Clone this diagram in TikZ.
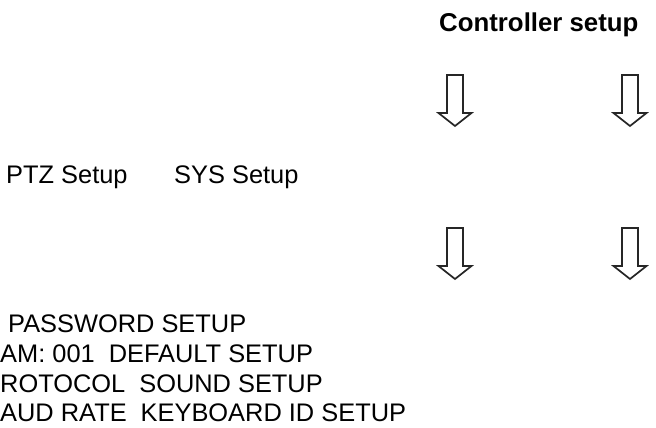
\documentclass[tikz,border=0pt]{standalone}
\usepackage{fontspec}
\setmainfont{Liberation Sans}
\begin{document}
\begin{tikzpicture}[x=1pt,y=-1pt,
  lbl/.style={anchor=base west,inner sep=0pt,font=\fontsize{25.4}{29}\selectfont},
  title/.style={anchor=base west,inner sep=0pt,font=\fontsize{25.8}{29}\selectfont\bfseries},
  arrowline/.style={draw=black!85,line width=1.7pt,line join=miter,fill=white},
  downarrow/.pic={\path[arrowline] (-8,0) -- (-8,38) -- (-16.5,38) -- (0,51) -- (16.5,38) -- (8,38) -- (8,0) -- cycle;}]
\useasboundingbox (0,0) rectangle (656,428);
\node[title] (ctrl) at (439,32) {Controller setup};
\pic (a1) at (455,75) {downarrow};
\pic (a2) at (630,75) {downarrow};
\node[lbl] (ptz) at (6,183) {PTZ Setup};
\node[lbl] (sys) at (174,183) {SYS Setup};
\pic (a3) at (455,228) {downarrow};
\pic (a4) at (630,228) {downarrow};
\node[lbl] (l1) at (8,332) {PASSWORD SETUP};
\node[lbl] (l2) at (0,362) {AM: 001\hspace{14pt}DEFAULT SETUP};
\node[lbl] (l3) at (0,392) {ROTOCOL\hspace{14pt}SOUND SETUP};
\node[lbl] (l4) at (0,421) {AUD RATE\hspace{14pt}KEYBOARD ID SETUP};
\end{tikzpicture}
\end{document}
